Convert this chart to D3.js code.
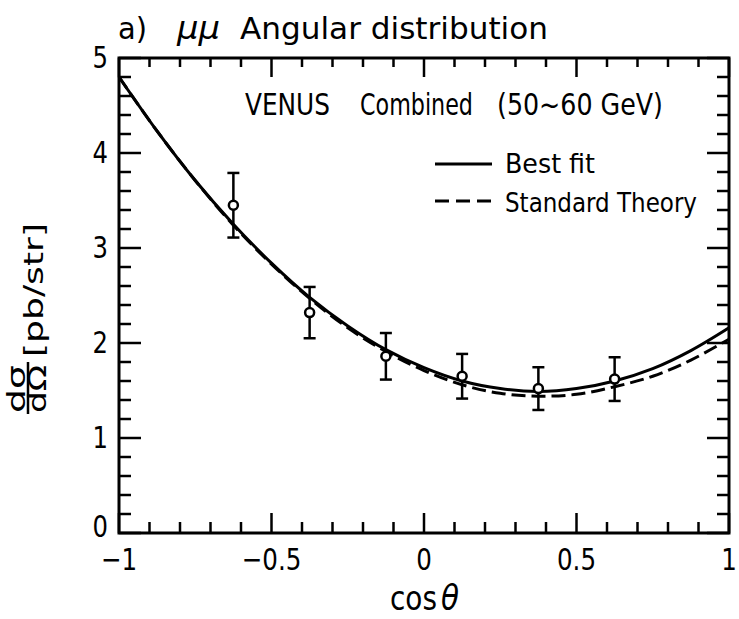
<!DOCTYPE html>
<html>
<head>
<meta charset="utf-8">
<script src="https://cdn.jsdelivr.net/npm/d3@7"></script>
<style>
  body { margin: 0; background: #fff; }
  svg { display: block; }
  text { font-family: "DejaVu Sans Condensed", "Liberation Sans Narrow", sans-serif; fill: #000; }
</style>
</head>
<body>
<div id="chart"></div>
<script>
// measured points (cos theta bin centres)
const cosBins = [-0.625, -0.375, -0.125, 0.125, 0.375, 0.625];
const dataValues = [3.45, 2.32, 1.86, 1.65, 1.52, 1.62];
const dataErrors = [0.34, 0.27, 0.245, 0.235, 0.225, 0.23];

// curves
const curveX = [-1, -0.875, -0.75, -0.625, -0.5, -0.375, -0.25, -0.125, 0, 0.125, 0.25, 0.375, 0.5, 0.625, 0.75, 0.875, 1];
const bestFit = [4.80, 4.23, 3.71, 3.25, 2.84, 2.48, 2.18, 1.93, 1.74, 1.60, 1.52, 1.49, 1.52, 1.60, 1.73, 1.92, 2.16];
const standardTheory = [4.80, 4.23, 3.71, 3.24, 2.83, 2.47, 2.16, 1.91, 1.71, 1.56, 1.47, 1.44, 1.46, 1.54, 1.65, 1.82, 2.04];

const xTickValues = [-1, -0.5, 0, 0.5, 1];
const xTickLabels = ["\u22121", "\u22120.5", "0", "0.5", "1"];
const yTickValues = [0, 1, 2, 3, 4, 5];

// fit a text element to a given width
function fit(sel, w) {
  return sel.attr("textLength", w).attr("lengthAdjust", "spacingAndGlyphs");
}
function squeeze(sel, f) {
  sel.each(function () {
    const w = this.getComputedTextLength();
    d3.select(this).attr("textLength", w * f).attr("lengthAdjust", "spacingAndGlyphs");
  });
}

function buildChart() {
  const width = 739;
  const height = 619;
  const margin = { left: 119, right: 10, top: 58, bottom: 86 };
  const visWidth = width - margin.left - margin.right;
  const visHeight = height - margin.top - margin.bottom;

  const svg = d3.select("#chart")
    .append("svg")
    .attr("width", width)
    .attr("height", height);

  const x = d3.scaleLinear().domain([-1, 1]).range([0, visWidth]);
  const y = d3.scaleLinear().domain([0, 5]).range([visHeight, 0]);

  const g = svg.append("g")
    .attr("transform", `translate(${margin.left},${margin.top})`);

  // inward ticks on all four sides
  const xMinor = d3.range(-10, 11).map((d) => d / 10);
  const yMinor = d3.range(0, 26).map((d) => d / 5);
  const isMajorX = (d) => Math.abs(d * 2 - Math.round(d * 2)) < 1e-6;
  const isMajorY = (d) => Math.abs(d - Math.round(d)) < 1e-6;

  g.selectAll(".xt-bottom").data(xMinor).enter().append("line")
    .attr("x1", (d) => x(d)).attr("x2", (d) => x(d))
    .attr("y1", visHeight).attr("y2", (d) => visHeight - (isMajorX(d) ? 20 : 11))
    .attr("stroke", "#000").attr("stroke-width", 2.5);
  g.selectAll(".xt-top").data(xMinor).enter().append("line")
    .attr("x1", (d) => x(d)).attr("x2", (d) => x(d))
    .attr("y1", 0).attr("y2", (d) => (isMajorX(d) ? 19 : 9))
    .attr("stroke", "#000").attr("stroke-width", 2.5);
  g.selectAll(".yt-left").data(yMinor).enter().append("line")
    .attr("x1", 0).attr("x2", (d) => (isMajorY(d) ? 22 : 12))
    .attr("y1", (d) => y(d)).attr("y2", (d) => y(d))
    .attr("stroke", "#000").attr("stroke-width", 2.5);
  g.selectAll(".yt-right").data(yMinor).enter().append("line")
    .attr("x1", visWidth).attr("x2", (d) => visWidth - (isMajorY(d) ? 22 : 12))
    .attr("y1", (d) => y(d)).attr("y2", (d) => y(d))
    .attr("stroke", "#000").attr("stroke-width", 2.5);

  // frame
  g.append("rect")
    .attr("width", visWidth).attr("height", visHeight)
    .attr("fill", "none").attr("stroke", "#000").attr("stroke-width", 3);

  // tick labels
  const xl = g.selectAll(".xl").data(xTickValues).enter().append("text")
    .attr("x", (d) => x(d)).attr("y", visHeight + 37)
    .attr("text-anchor", "middle").attr("font-size", 31)
    .text((d, i) => xTickLabels[i]);
  squeeze(xl, 0.88);
  const yl = g.selectAll(".yl").data(yTickValues).enter().append("text")
    .attr("x", -11).attr("y", (d) => y(d) + (d === 0 ? 4 : 10))
    .attr("text-anchor", "end").attr("font-size", 30)
    .text((d) => d);
  squeeze(yl, 0.9);

  // curves
  const line = d3.line()
    .x((d) => x(d[0])).y((d) => y(d[1]))
    .curve(d3.curveCatmullRom);
  g.append("path")
    .datum(curveX.map((c, i) => [c, standardTheory[i]]))
    .attr("d", line).attr("fill", "none").attr("stroke", "#000")
    .attr("stroke-width", 3).attr("stroke-dasharray", "14,6");
  g.append("path")
    .datum(curveX.map((c, i) => [c, bestFit[i]]))
    .attr("d", line).attr("fill", "none").attr("stroke", "#000")
    .attr("stroke-width", 3);

  // error bars
  const pts = g.selectAll(".pt").data(cosBins).enter().append("g");
  pts.append("line")
    .attr("x1", (d) => x(d)).attr("x2", (d) => x(d))
    .attr("y1", (d, i) => y(dataValues[i] - dataErrors[i]))
    .attr("y2", (d, i) => y(dataValues[i] + dataErrors[i]))
    .attr("stroke", "#000").attr("stroke-width", 2.5);
  pts.append("line")
    .attr("x1", (d) => x(d) - 6).attr("x2", (d) => x(d) + 6)
    .attr("y1", (d, i) => y(dataValues[i] + dataErrors[i]))
    .attr("y2", (d, i) => y(dataValues[i] + dataErrors[i]))
    .attr("stroke", "#000").attr("stroke-width", 2.5);
  pts.append("line")
    .attr("x1", (d) => x(d) - 6).attr("x2", (d) => x(d) + 6)
    .attr("y1", (d, i) => y(dataValues[i] - dataErrors[i]))
    .attr("y2", (d, i) => y(dataValues[i] - dataErrors[i]))
    .attr("stroke", "#000").attr("stroke-width", 2.5);
  pts.append("circle")
    .attr("cx", (d) => x(d)).attr("cy", (d, i) => y(dataValues[i]))
    .attr("r", 4.5).attr("fill", "#fff").attr("stroke", "#000").attr("stroke-width", 2.5);

  // in-plot caption
  fit(svg.append("text").attr("x", 245).attr("y", 115).attr("font-size", 31).text("VENUS"), 85);
  fit(svg.append("text").attr("x", 360).attr("y", 115).attr("font-size", 31).text("Combined"), 113);
  fit(svg.append("text").attr("x", 497).attr("y", 115).attr("font-size", 31).text("(50~60 GeV)"), 166);

  // legend
  const legend = svg.append("g");
  legend.append("line")
    .attr("x1", 435).attr("x2", 492).attr("y1", 164).attr("y2", 164)
    .attr("stroke", "#000").attr("stroke-width", 3);
  legend.append("line")
    .attr("x1", 435).attr("x2", 492).attr("y1", 201).attr("y2", 201)
    .attr("stroke", "#000").attr("stroke-width", 3).attr("stroke-dasharray", "14,7");
  fit(legend.append("text").attr("x", 505).attr("y", 173).attr("font-size", 27).text("Best fit"), 90);
  fit(legend.append("text").attr("x", 505).attr("y", 212).attr("font-size", 27).text("Standard Theory"), 192);

  // title
  fit(svg.append("text").attr("x", 118).attr("y", 39).attr("font-size", 31).text("a)"), 29);
  fit(svg.append("text").attr("x", 177).attr("y", 39).attr("font-size", 31)
    .attr("font-style", "italic").text("\u03bc\u03bc"), 43);
  fit(svg.append("text").attr("x", 240).attr("y", 39).attr("font-size", 31)
    .text("Angular distribution"), 308);

  // x axis label
  fit(svg.append("text").attr("x", 390).attr("y", 610).attr("font-size", 34).text("cos"), 47);
  fit(svg.append("text").attr("x", 441).attr("y", 610).attr("font-size", 36)
    .attr("font-style", "italic").text("\u03b8"), 18);

  // y axis label (fraction + units), rotated
  fit(svg.append("text")
    .attr("transform", "translate(25,413) rotate(-90)")
    .attr("font-size", 24).text("d\u03c3"), 48);
  svg.append("line")
    .attr("x1", 28).attr("x2", 28).attr("y1", 362).attr("y2", 414)
    .attr("stroke", "#000").attr("stroke-width", 2.5);
  fit(svg.append("text")
    .attr("transform", "translate(46,413) rotate(-90)")
    .attr("font-size", 24).text("d\u03a9"), 48);
  fit(svg.append("text")
    .attr("transform", "translate(43,357) rotate(-90)")
    .attr("font-size", 27).text("[pb/str]"), 134);
}

window.onload = buildChart;
</script>
</body>
</html>
